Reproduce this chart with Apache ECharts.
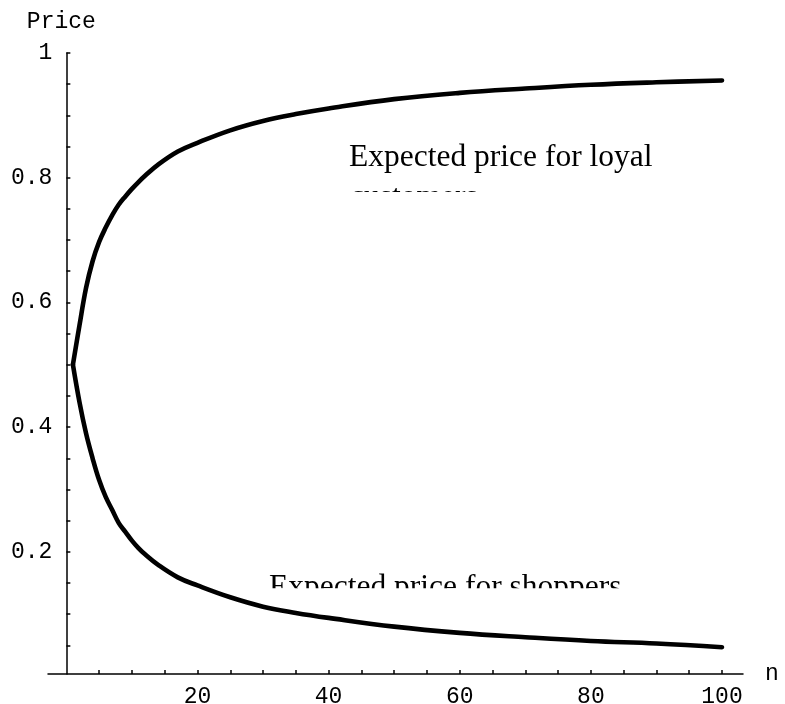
<!DOCTYPE html>
<html>
<head>
<meta charset="utf-8">
<script src="https://cdn.jsdelivr.net/npm/echarts@6/dist/echarts.min.js"></script>
<style>
  html, body { margin: 0; padding: 0; background: #fff; }
  #chart { width: 785px; height: 704px; }
</style>
</head>
<body>
<div id="chart"></div>
<script>
// Number of firms n
const nValues = [1, 2, 3, 4, 5, 6, 7, 8, 9, 10, 11, 12, 14, 17, 20, 25, 30, 35, 40, 50, 60, 70, 80, 90, 100];
// Expected price paid by loyal customers
const loyalPrice = [0.5, 0.563, 0.623, 0.666, 0.697, 0.72, 0.74, 0.757, 0.77, 0.782, 0.793, 0.803,
  0.821, 0.842, 0.856, 0.876, 0.891, 0.902, 0.911, 0.926, 0.936, 0.943, 0.949, 0.953, 0.956];
// Expected price paid by shoppers
const shopperPrice = [0.5, 0.44, 0.39, 0.35, 0.315, 0.288, 0.267, 0.246, 0.232, 0.218, 0.206, 0.196,
  0.179, 0.159, 0.146, 0.127, 0.112, 0.102, 0.094, 0.08, 0.07, 0.063, 0.057, 0.053, 0.047];

// Axis ticks and labels
const xTicks = [5, 10, 15, 20, 25, 30, 35, 40, 45, 50, 55, 60, 65, 70, 75, 80, 85, 90, 95, 100];
const xLabels = [20, 40, 60, 80, 100];
const yTicks = [0.05, 0.1, 0.15, 0.2, 0.25, 0.3, 0.35, 0.4, 0.45, 0.5, 0.55, 0.6, 0.65, 0.7, 0.75,
  0.8, 0.85, 0.9, 0.95, 1];
const yLabels = [0.2, 0.4, 0.6, 0.8, 1];

const monoFont = '"Liberation Mono", "Courier New", monospace';
const serifFont = '"Liberation Serif", "Times New Roman", serif';

const W = 785, H = 704;
const grid = { left: 48, right: 42, top: 53, bottom: 30 };
const xMin = -2.8, xMax = 103.2;
// the vertical axis sits at n = 0, inside the plot area
const yAxisOffset = -((0 - xMin) / (xMax - xMin)) * (W - grid.left - grid.right);

const chart = echarts.init(document.getElementById('chart'), null, { renderer: 'canvas' });

const toPairs = (xs, ys) => xs.map((x, i) => [x, ys[i]]);

const lineStyle = { color: '#000', width: 4.6, cap: 'round', join: 'round' };
const annotationFont = '31.5px ' + serifFont;

chart.setOption({
  animation: false,
  backgroundColor: '#fff',
  grid: Object.assign({ containLabel: false, outerBoundsMode: 'none' }, grid),
  xAxis: {
    type: 'value',
    min: xMin,
    max: xMax,
    name: 'n',
    nameLocation: 'end',
    nameGap: 22,
    nameTextStyle: { fontFamily: monoFont, fontSize: 23, color: '#000', verticalAlign: 'middle' },
    axisLine: { show: true, onZero: false, lineStyle: { color: '#000', width: 1.5 } },
    axisTick: { show: true, inside: true, length: 4, customValues: xTicks, lineStyle: { color: '#000', width: 1.5 } },
    axisLabel: { show: true, customValues: xLabels, margin: 11, fontFamily: monoFont, fontSize: 23, color: '#000' },
    splitLine: { show: false }
  },
  yAxis: {
    type: 'value',
    min: 0.004,
    max: 1,
    offset: yAxisOffset,
    name: 'Price',
    nameLocation: 'end',
    nameGap: 20,
    nameTextStyle: { fontFamily: monoFont, fontSize: 23, color: '#000', align: 'center', padding: [0, 10, 0, 0] },
    axisLine: { show: true, onZero: false, lineStyle: { color: '#000', width: 1.5 } },
    axisTick: { show: true, inside: true, length: 4, customValues: yTicks, lineStyle: { color: '#000', width: 1.5 } },
    axisLabel: {
      show: true, customValues: yLabels, margin: 14, fontFamily: monoFont, fontSize: 23, color: '#000',
      formatter: v => (Math.abs(v - 1) < 1e-9 ? '1' : String(+v.toFixed(2)))
    },
    splitLine: { show: false }
  },
  series: [
    {
      name: 'Expected price for loyal customers',
      type: 'line',
      data: toPairs(nValues, loyalPrice),
      showSymbol: false,
      symbol: 'none',
      smooth: 0.4,
      lineStyle: lineStyle,
      z: 3
    },
    {
      name: 'Expected price for shoppers',
      type: 'line',
      data: toPairs(nValues, shopperPrice),
      showSymbol: false,
      symbol: 'none',
      smooth: 0.4,
      lineStyle: lineStyle,
      z: 3
    }
  ],
  graphic: [
    {
      type: 'text', x: 349, y: 157.7, z: 0,
      style: { text: 'Expected price for loyal', font: annotationFont, fill: '#000', verticalAlign: 'middle' }
    },
    {
      type: 'text', x: 350, y: 197.5, z: 0,
      style: { text: 'customers', font: annotationFont, fill: '#000', verticalAlign: 'middle' }
    },
    // the annotation box cuts off the lower part of its text
    { type: 'rect', x: 330, y: 192, z: 1, shape: { width: 240, height: 32 }, style: { fill: '#fff' } },
    {
      type: 'text', x: 269, y: 587.5, z: 0,
      style: { text: 'Expected price for shoppers', font: annotationFont, fill: '#000', verticalAlign: 'middle' }
    },
    { type: 'rect', x: 255, y: 588.3, z: 1, shape: { width: 420, height: 24 }, style: { fill: '#fff' } }
  ]
});
</script>
</body>
</html>
